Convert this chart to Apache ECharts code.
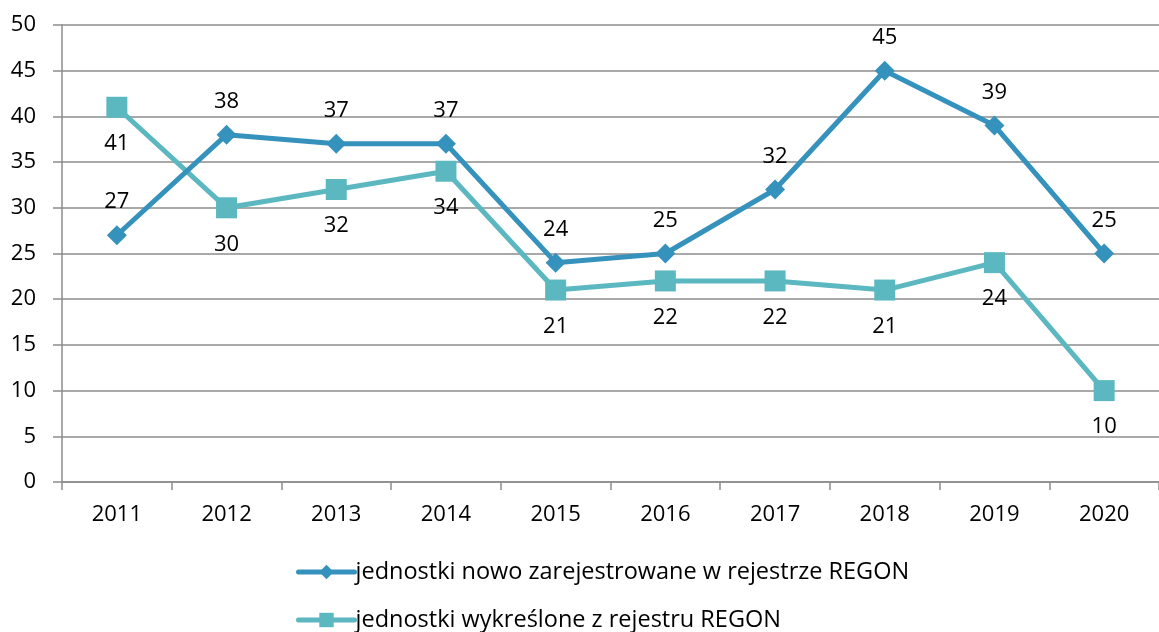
<!DOCTYPE html>
<html>
<head>
<meta charset="utf-8">
<script src="https://cdn.jsdelivr.net/npm/echarts@6/dist/echarts.min.js"></script>
<style>
  html, body { margin: 0; padding: 0; background: #fff; }
  #chart { width: 1159px; height: 632px; }
</style>
</head>
<body>
<div id="chart"></div>
<script>
// Years on the category axis
const years = ['2011', '2012', '2013', '2014', '2015', '2016', '2017', '2018', '2019', '2020'];
// Units newly registered in REGON
const registered = [27, 38, 37, 37, 24, 25, 32, 45, 39, 25];
// Units removed from REGON
const removed = [41, 30, 32, 34, 21, 22, 22, 21, 24, 10];
// Series names shown in the legend
const seriesNames = [
  'jednostki nowo zarejestrowane w rejestrze REGON',
  'jednostki wykreślone z rejestru REGON'
];

const FONT = '"Open Sans", Lato, sans-serif';
const FONT_SIZE = 22;
const LEGEND_FONT_SIZE = 23.5;
const GRID_COLOR = '#8c8c8c';
const BLUE = '#3592bc';
const TEAL = '#5bb8c0';
const LINE_WIDTH = 5;

const chart = echarts.init(document.getElementById('chart'), null, { renderer: 'canvas' });

// One legend block per row so both rows stack under the plot
function legendRow(name, top) {
  return {
    orient: 'vertical',
    left: 296,
    top: top,
    padding: 0,
    itemWidth: 56,
    itemHeight: 18,
    itemGap: 0,
    lineStyle: { width: LINE_WIDTH, cap: 'round' },
    textStyle: { fontFamily: FONT, fontSize: LEGEND_FONT_SIZE, color: '#000', padding: [0, 0, 0, -4] },
    data: [name]
  };
}

chart.setOption({
  animation: false,
  textStyle: { fontFamily: FONT },
  grid: { left: 62, top: 25, width: 1111, height: 457, containLabel: false },
  legend: [
    legendRow(seriesNames[0], 560),
    legendRow(seriesNames[1], 608)
  ],
  xAxis: {
    type: 'category',
    data: years,
    boundaryGap: true,
    axisLine: { lineStyle: { color: GRID_COLOR, width: 1.5 } },
    axisTick: { show: true, length: 8, inside: false, lineStyle: { color: GRID_COLOR, width: 1.5 } },
    axisLabel: { fontFamily: FONT, fontSize: FONT_SIZE, color: '#000', margin: 22 }
  },
  yAxis: {
    type: 'value',
    min: 0,
    max: 50,
    interval: 5,
    axisLine: { show: true, lineStyle: { color: GRID_COLOR, width: 1.5 } },
    axisTick: { show: true, length: 9, lineStyle: { color: GRID_COLOR, width: 1.5 } },
    splitLine: { show: true, lineStyle: { color: GRID_COLOR, width: 1.5 } },
    axisLabel: { fontFamily: FONT, fontSize: FONT_SIZE, color: '#000', margin: 26 }
  },
  series: [
    {
      name: seriesNames[0],
      type: 'line',
      data: registered,
      symbol: 'diamond',
      symbolSize: 20,
      z: 3,
      lineStyle: { color: BLUE, width: LINE_WIDTH },
      itemStyle: { color: BLUE },
      label: { show: true, position: 'top', distance: 12, fontFamily: FONT, fontSize: FONT_SIZE, color: '#000' }
    },
    {
      name: seriesNames[1],
      type: 'line',
      data: removed,
      symbol: 'rect',
      symbolSize: 21,
      z: 2,
      lineStyle: { color: TEAL, width: LINE_WIDTH },
      itemStyle: { color: TEAL },
      label: { show: true, position: 'bottom', distance: 15, fontFamily: FONT, fontSize: FONT_SIZE, color: '#000' }
    }
  ]
});
</script>
</body>
</html>
